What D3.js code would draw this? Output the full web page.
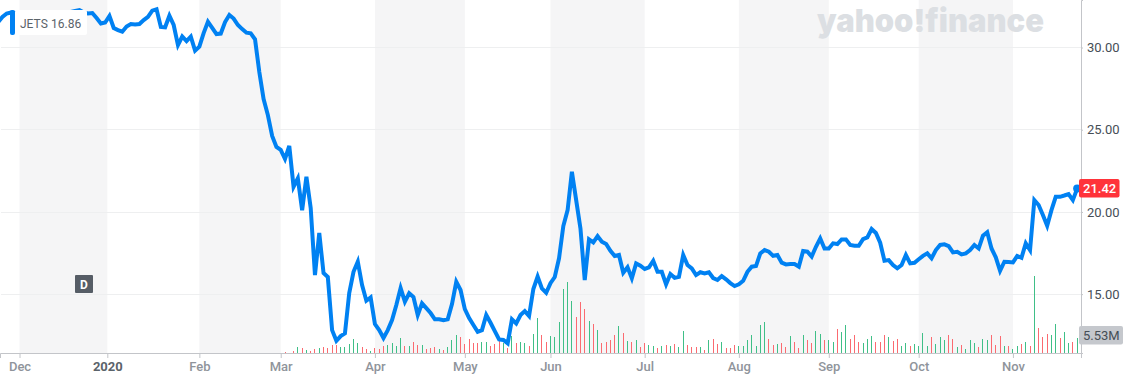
<!DOCTYPE html>
<html>
<head>
<meta charset="utf-8">
<style>
  html, body { margin: 0; padding: 0; background: #fff; overflow: hidden; }
  text { font-family: Roboto, sans-serif; }
</style>
</head>
<body>
<div id="chart"></div>
<script src="https://d3js.org/d3.v7.min.js"></script>
<script>
var symbol = "JETS", legendValue = "16.86", lastPrice = "21.42", lastVolume = "5.53M";

// daily close, one per trading day, starting late Nov 2019
var closes = [31.55,31.86,32.07,32.13,32.10,32.04,32.10,31.98,31.86,31.92,31.98,31.92,31.98,32.04,31.98,32.10,32.04,32.16,32.22,32.28,32.13,32.07,32.10,
  31.79,31.46,31.52,31.92,31.19,31.06,30.96,31.28,31.43,31.40,31.43,31.67,31.86,32.24,32.32,31.25,31.23,31.93,31.37,30.15,30.67,30.39,30.66,29.81,30.05,30.88,31.57,31.19,30.82,30.85,31.55,31.98,31.76,31.37,31.12,30.90,30.86,30.50,
  28.51,26.87,25.89,24.62,23.95,23.77,23.22,24.01,21.53,22.04,20.11,22.14,20.24,16.16,18.72,16.28,16.04,12.81,12.16,12.45,12.61,15.07,16.36,16.97,15.55,14.60,14.80,
  13.18,12.81,12.33,12.81,13.42,14.34,15.37,14.54,15.05,14.82,13.73,14.44,14.15,13.85,13.47,13.47,13.42,13.47,14.40,15.75,15.25,
  14.09,13.54,13.12,12.71,12.81,13.73,13.26,12.75,12.25,12.21,12.01,13.47,13.22,13.73,13.97,13.67,15.31,16.07,15.35,15.08,
  15.67,16.04,17.18,19.14,20.11,22.44,20.72,19.00,15.86,18.33,18.15,18.53,18.19,18.05,17.64,17.32,17.38,16.30,16.63,15.96,16.87,16.73,
  16.53,16.63,17.03,16.36,16.36,15.60,16.22,15.99,16.05,17.38,16.77,16.57,16.16,16.33,16.26,16.33,15.98,15.86,16.10,15.90,15.67,15.49,
  15.60,15.81,16.36,16.67,16.71,17.48,17.68,17.58,17.33,17.38,16.91,16.81,16.83,16.83,16.67,17.62,17.58,17.29,17.88,18.39,17.78,
  17.78,18.09,18.05,18.33,18.33,17.99,17.95,17.94,18.35,18.45,18.96,18.72,18.13,17.03,17.07,16.77,16.57,16.77,17.38,16.87,16.91,
  17.12,17.33,17.48,17.18,17.68,17.99,18.03,17.92,17.54,17.58,17.42,17.48,17.68,17.99,17.78,18.55,18.76,17.78,17.24,16.42,16.97,16.95,
  16.93,17.32,17.21,18.09,17.68,20.72,20.42,19.81,19.16,20.11,20.92,20.92,21.00,21.09,20.72,21.42];

// volume in millions, bars only show from March on
var volumeStart = 66;
var volumes = [0.12,0.49,0.12,0.74,2.21,1.85,0.98,0.74,1.48,1.85,2.21,1.85,2.95,2.95,2.21,2.21,3.32,5.17,3.69,2.34,1.48,0.86,
  1.85,1.6,2.58,2.95,3.69,2.58,5.53,2.58,2.71,4.06,2.95,2.95,1.6,1.85,2.09,1.48,0.98,2.21,4.8,6.64,
  5.9,3.32,5.17,3.69,3.69,4.06,4.06,2.58,3.32,4.43,3.69,1.85,6.27,3.69,4.06,3.69,2.58,7.01,12.92,6.64,4.06,
  6.27,5.9,11.44,23.62,26.2,19.19,13.28,18.82,16.24,11.81,10.7,8.49,3.69,4.06,4.8,6.64,9.96,7.38,4.43,4.06,4.8,2.21,
  3.69,2.95,2.58,1.85,2.58,2.95,2.58,3.32,2.21,8.12,2.95,2.21,2.21,2.21,1.11,4.8,5.17,3.32,4.06,1.85,1.85,2.95,
  2.58,2.58,4.8,6.64,2.58,10.33,11.44,5.17,2.95,3.32,3.69,2.21,6.27,4.06,1.85,6.64,4.8,3.69,8.12,7.01,4.8,
  4.8,4.06,8.86,7.75,10.33,5.17,6.64,4.06,3.69,5.17,6.27,4.06,4.06,6.64,5.9,4.43,5.17,2.58,3.69,2.58,3.32,
  2.58,7.38,2.58,5.9,3.32,5.9,4.8,6.64,5.17,2.21,2.95,1.48,4.8,3.69,2.21,5.17,4.8,6.64,2.95,6.27,2.58,2.58,
  1.48,2.58,3.32,4.06,2.58,28.41,9.23,5.9,7.01,6.64,10.7,5.53,7.75,3.69,4.06,5.53];
// 1 = green bar, 0 = red bar
var volumeUp = [0,0,0,0,1,0,1,0,0,1,0,0,0,0,1,1,1,1,1,0,0,1,
  0,0,0,1,1,1,1,0,1,0,0,1,0,0,0,1,0,1,1,1,
  0,0,0,0,0,1,1,0,0,0,1,0,1,0,1,1,0,1,1,0,0,
  1,1,1,1,1,1,0,0,0,1,0,1,0,0,0,0,1,0,1,0,1,0,
  0,1,1,0,1,0,1,0,1,1,0,0,0,1,0,1,0,0,1,0,0,0,
  1,1,1,1,1,1,1,0,0,1,0,0,1,0,0,1,0,0,1,1,0,
  1,1,0,1,1,0,0,0,1,1,1,0,0,0,1,0,0,1,1,0,1,
  1,1,1,0,1,1,1,0,0,1,0,1,1,1,0,1,1,0,0,0,1,0,
  1,1,0,1,0,1,0,0,0,1,1,0,1,1,0,1];

var tickDays = [5,25.5,47,66,88,109,129,151,173,194,215,237];
var tickLabels = ["Dec","2020","Feb","Mar","Apr","May","Jun","Jul","Aug","Sep","Oct","Nov"];
var priceTicks = [15,20,25,30];

var width = 1135, height = 383, plotW = 1081, plotH = 353;

var svg = d3.select("#chart").append("svg")
  .attr("width", width)
  .attr("height", height)
  .style("display", "block");

var x = d3.scaleLinear().domain([0.44, 252.9]).range([0, plotW]);
var y = d3.scaleLinear().domain([11.42, 32.89]).range([plotH, 0]);
var yVol = d3.scaleLinear().domain([0, 30]).range([plotH, plotH - 81.4]);

// every other month is shaded
var bands = d3.range(0, tickDays.length - 1, 2).map(function(i) {
  return [tickDays[i], tickDays[i + 1]];
});
svg.append("g").selectAll("rect")
  .data(bands)
  .enter().append("rect")
  .attr("x", function(d) { return x(d[0]); })
  .attr("y", 0)
  .attr("width", function(d) { return x(d[1]) - x(d[0]); })
  .attr("height", plotH)
  .attr("fill", "#f5f5f6");

svg.append("g").selectAll("line")
  .data(priceTicks)
  .enter().append("line")
  .attr("x1", 1)
  .attr("x2", plotW)
  .attr("y1", function(d) { return Math.round(y(d) - 0.3) + 0.5; })
  .attr("y2", function(d) { return Math.round(y(d) - 0.3) + 0.5; })
  .attr("stroke", "#eeeff0");

// watermark
svg.append("text")
  .attr("x", 817)
  .attr("y", 32)
  .attr("textLength", 227)
  .attr("lengthAdjust", "spacingAndGlyphs")
  .style("font-family", "Inter, sans-serif")
  .style("font-size", "32px")
  .style("font-weight", 900)
  .attr("fill", "#dcdfe3")
  .text("yahoo!finance");

svg.append("g").selectAll("rect")
  .data(volumes)
  .enter().append("rect")
  .attr("x", function(d, i) { return Math.floor(x(i + volumeStart)); })
  .attr("y", function(d) { return yVol(d); })
  .attr("width", 1)
  .attr("height", function(d) { return plotH - yVol(d); })
  .attr("fill", function(d, i) { return volumeUp[i] ? "#3fbf87" : "#fb6a70"; })
  .attr("shape-rendering", "crispEdges");

var line = d3.line()
  .x(function(d, i) { return x(i); })
  .y(function(d) { return y(d); });

svg.append("path")
  .datum(closes)
  .attr("d", line)
  .attr("fill", "none")
  .attr("stroke", "#0081f2")
  .attr("stroke-width", 4)
  .attr("stroke-linejoin", "miter");

svg.append("circle")
  .attr("cx", x(closes.length - 1))
  .attr("cy", y(closes[closes.length - 1]))
  .attr("r", 4)
  .attr("fill", "#0081f2");

// axes
var xAxis = svg.append("g")
  .attr("transform", "translate(0," + plotH + ")")
  .call(d3.axisBottom(x)
    .tickValues(tickDays)
    .tickFormat(function(d, i) { return tickLabels[i]; })
    .tickSizeOuter(0)
    .tickSize(5)
    .tickPadding(4));
xAxis.select(".domain").attr("stroke", "#c3c5c9");
xAxis.selectAll(".tick line").attr("stroke", "#c3c5c9");
xAxis.selectAll(".tick text")
  .style("font-family", "Roboto, sans-serif")
  .style("font-size", "13px")
  .attr("fill", function(d, i) { return tickLabels[i] == "2020" ? "#5b636a" : "#8f949b"; })
  .style("font-weight", function(d, i) { return tickLabels[i] == "2020" ? 700 : 500; });

var yAxis = svg.append("g")
  .attr("transform", "translate(" + plotW + ",0)")
  .call(d3.axisRight(y)
    .tickValues(priceTicks)
    .tickFormat(d3.format(".2f"))
    .tickSizeOuter(0)
    .tickSize(2)
    .tickPadding(4));
yAxis.select(".domain").attr("stroke", "#c3c5c9");
yAxis.selectAll(".tick line").attr("stroke", "#c3c5c9");
yAxis.selectAll(".tick text")
  .style("font-family", "Roboto, sans-serif")
  .style("font-size", "13px")
  .attr("fill", "#464e56");

// price and volume tags on the axis
svg.append("rect").attr("x", 1079).attr("y", 179).attr("width", 40.5).attr("height", 18.5).attr("rx", 2).attr("fill", "#ff333a");
svg.append("text").attr("x", 1083).attr("y", 193).attr("fill", "#fff")
  .style("font-size", "13px").style("font-weight", 500).text(lastPrice);

svg.append("rect").attr("x", 1079).attr("y", 326).attr("width", 44).attr("height", 18.5).attr("rx", 2).attr("fill", "#c5c8cd");
svg.append("text").attr("x", 1083).attr("y", 340).attr("fill", "#464e56")
  .style("font-size", "13px").text(lastVolume);

// legend
svg.append("rect").attr("x", 15).attr("y", 10).attr("width", 72).attr("height", 25).attr("rx", 2).attr("fill", "#fff");
svg.append("rect").attr("x", 10).attr("y", 10).attr("width", 5).attr("height", 25).attr("rx", 2).attr("fill", "#0081f2");
svg.append("text").attr("x", 20).attr("y", 28).attr("fill", "#5b636a")
  .style("font-size", "12px").text(symbol);
svg.append("text").attr("x", 51).attr("y", 28).attr("fill", "#5b636a")
  .style("font-size", "12px").text(legendValue);

// split marker
svg.append("rect").attr("x", 75).attr("y", 275).attr("width", 18).attr("height", 18).attr("rx", 1).attr("fill", "#565d66");
svg.append("text").attr("x", 84).attr("y", 289).attr("text-anchor", "middle").attr("fill", "#fff")
  .style("font-size", "12px").style("font-weight", 700).text("D");
</script>
</body>
</html>
